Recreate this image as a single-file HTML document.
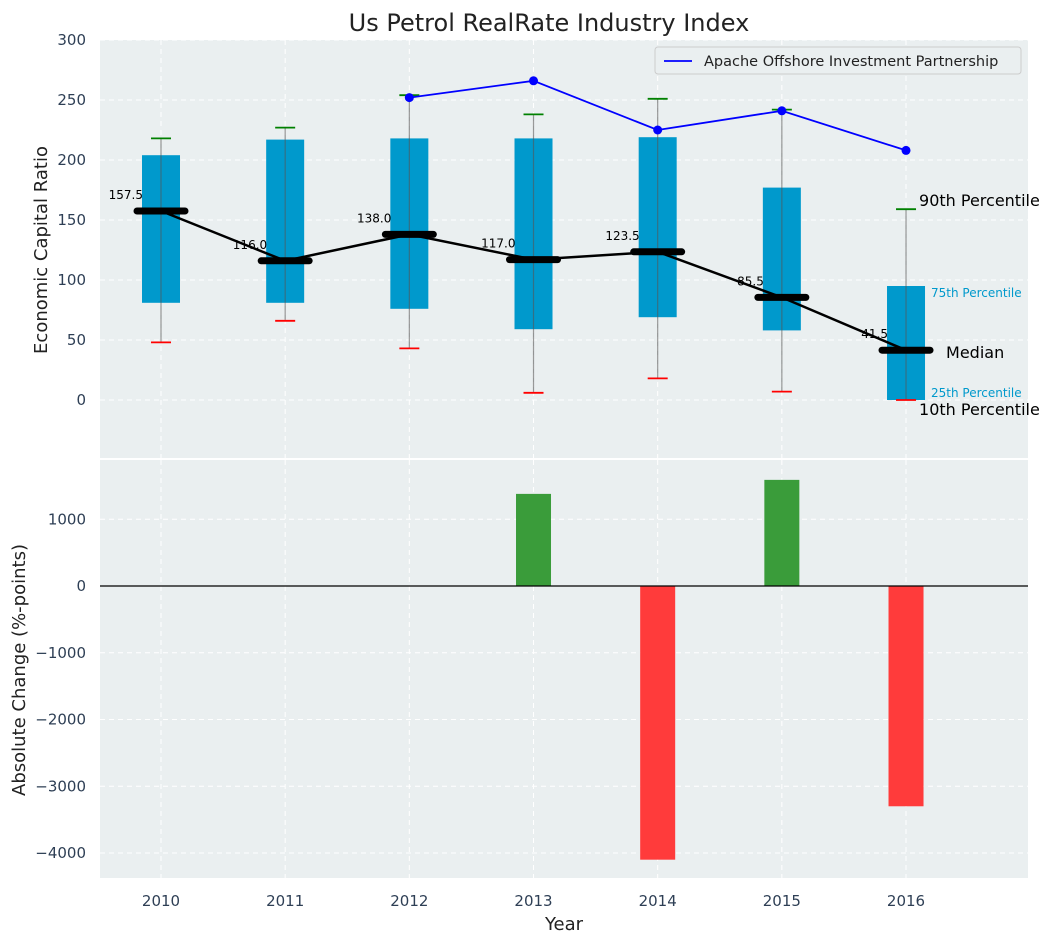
<!DOCTYPE html>
<html><head><meta charset="utf-8"><style>
body{margin:0;background:#fff;font-family:"Liberation Sans","DejaVu Sans",sans-serif}
svg text{font-family:"DejaVu Sans","Liberation Sans",sans-serif}
</style></head><body>
<svg id="c" width="1054" height="942" xmlns="http://www.w3.org/2000/svg"></svg>
<script>
const years=[2010,2011,2012,2013,2014,2015,2016];
const p10=[48,66,43,6,18,7,0];
const q1=[81,81,76,59,69,58,0];
const med=[157.5,116,138,117,123.5,85.5,41.5];
const q3=[204,217,218,218,219,177,95];
const p90=[218,227,254,238,251,242,159];
const apacheYears=[2012,2013,2014,2015,2016];
const apacheVals=[252,266,225,241,208];
const changeYears=[2013,2014,2015,2016];
const changeVals=[1380,-4100,1590,-3300];
const topTicks=[0,50,100,150,200,250,300];
const botTicks=[-4000,-3000,-2000,-1000,0,1000];

const NS="http://www.w3.org/2000/svg";
const svg=document.getElementById('c');
function el(tag,attrs,parent,text){const e=document.createElementNS(NS,tag);for(const k in attrs)e.setAttribute(k,attrs[k]);if(text!==undefined)e.textContent=text;(parent||svg).appendChild(e);return e;}
const L=100,R=1028;
const xy=y=>161+(y-2010)*124.17;
const yT=v=>400-v*1.2;
const yB=v=>586-v*0.06675;

let bg=el('rect',{x:L,y:40,width:R-L,height:418,fill:'#eaeff0'});

let bg2=el('rect',{x:L,y:460,width:R-L,height:418,fill:'#eaeff0'});


const grid={stroke:'#fff','stroke-dasharray':'5,4','stroke-width':1};
topTicks.forEach(t=>{el('line',Object.assign({x1:L,x2:R,y1:yT(t),y2:yT(t)},grid));
 let tx=el('text',{x:86,y:yT(t)+5,'text-anchor':'end','font-size':15,fill:'#2e3f55'},svg,t);
 });
botTicks.forEach(t=>{el('line',Object.assign({x1:L,x2:R,y1:yB(t),y2:yB(t)},grid));
 let tx=el('text',{x:86,y:yB(t)+5,'text-anchor':'end','font-size':15,fill:'#2e3f55'},svg,String(t).replace('-','\u2212'));
 });
years.forEach(yr=>{el('line',Object.assign({x1:xy(yr),x2:xy(yr),y1:40,y2:458},grid));el('line',Object.assign({x1:xy(yr),x2:xy(yr),y1:460,y2:878},grid));
 let tx=el('text',{x:xy(yr),y:906,'text-anchor':'middle','font-size':15,fill:'#2e3f55'},svg,yr);
 });

years.forEach((yr,i)=>{const cx=xy(yr);
 let b=el('rect',{x:cx-19,y:yT(q3[i]),width:38,height:yT(q1[i])-yT(q3[i]),fill:'#0099cc'});
 
 el('line',{x1:cx,x2:cx,y1:yT(p90[i]),y2:yT(p10[i]),stroke:'#555','stroke-opacity':0.6,'stroke-width':1.2});
 el('line',{x1:cx-10,x2:cx+10,y1:yT(p90[i]),y2:yT(p90[i]),stroke:'green','stroke-width':1.8});
 el('line',{x1:cx-10,x2:cx+10,y1:yT(p10[i]),y2:yT(p10[i]),stroke:'red','stroke-width':1.8});
});
let mp=years.map((yr,i)=>xy(yr)+','+yT(med[i])).join(' ');
let ml=el('polyline',{points:mp,fill:'none',stroke:'#000','stroke-width':2.5});

years.forEach((yr,i)=>{const cx=xy(yr);
 let m=el('line',{x1:cx-24,x2:cx+24,y1:yT(med[i]),y2:yT(med[i]),stroke:'#000','stroke-width':7,'stroke-linecap':'round'});
 
 let t=el('text',{x:cx-18,y:yT(med[i])-12,'text-anchor':'end','font-size':12,fill:'#000'},svg,med[i].toFixed(1));
 
});
let ap=apacheYears.map((yr,i)=>xy(yr)+','+yT(apacheVals[i])).join(' ');
let al=el('polyline',{points:ap,fill:'none',stroke:'blue','stroke-width':1.8});

apacheYears.forEach((yr,i)=>{let c=el('circle',{cx:xy(yr),cy:yT(apacheVals[i]),r:4.5,fill:'blue'});
 });

const lx=xy(2016);
[['90th Percentile',lx+13,yT(159)-3,16,'#000'],['75th Percentile',lx+25,yT(95)+11,12,'#0099cc'],['Median',lx+40,yT(41.5)+8,16,'#000'],['25th Percentile',lx+25,yT(0)-3,12,'#0099cc'],['10th Percentile',lx+13,yT(0)+15,16,'#000']].forEach(a=>{
 let t=el('text',{x:a[1],y:a[2],'font-size':a[3],fill:a[4]},svg,a[0]);
 });

let lg=el('g',{});
el('rect',{x:655,y:47,width:366,height:27,rx:3,fill:'#eaeff0',stroke:'#ccc'},lg);
el('line',{x1:664,x2:692,y1:61,y2:61,stroke:'blue','stroke-width':1.8},lg);
el('text',{x:704,y:66,'font-size':14.5,fill:'#222'},lg,'Apache Offshore Investment Partnership');

changeYears.forEach((yr,i)=>{const v=changeVals[i];
 let b=el('rect',{x:xy(yr)-17.5,y:Math.min(yB(0),yB(v)),width:35,height:Math.abs(yB(v)-yB(0)),fill:v>=0?'#3a9c3a':'#ff3b3b'});
 });
el('line',{x1:L,x2:R,y1:yB(0),y2:yB(0),stroke:'#000','stroke-width':1.2});

let tt=el('text',{x:549,y:31,'text-anchor':'middle','font-size':24,fill:'#222'},svg,'Us Petrol RealRate Industry Index');

let y1=el('text',{x:47,y:250,'text-anchor':'middle','font-size':18,fill:'#222',transform:'rotate(-90 47 250)'},svg,'Economic Capital Ratio');

let y2=el('text',{x:25,y:670,'text-anchor':'middle','font-size':18,fill:'#222',transform:'rotate(-90 25 670)'},svg,'Absolute Change (%-points)');

let xt=el('text',{x:564,y:930,'text-anchor':'middle','font-size':18,fill:'#222'},svg,'Year');

</script>
</body></html>
